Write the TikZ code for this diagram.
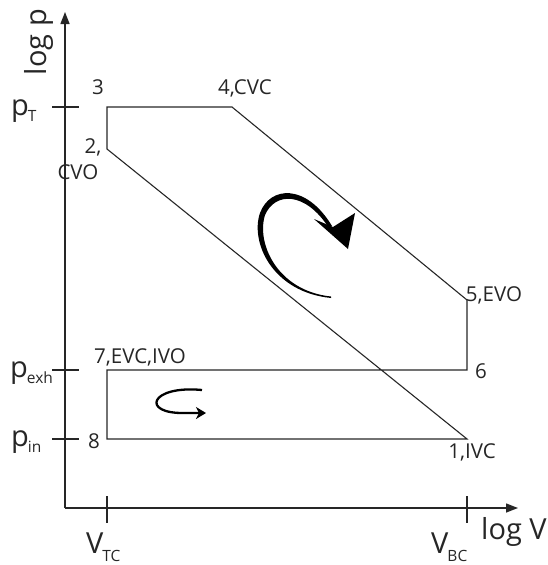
\documentclass[tikz,border=0pt]{standalone}
\usepackage{fontspec}
\setmainfont{Open Sans}
\usetikzlibrary{arrows.meta}
\definecolor{ink}{HTML}{262626}
\tikzset{
  axis/.style={draw=ink, line width=1.4pt},
  cyc/.style={draw=ink, line width=1.1pt, line join=miter},
  tick/.style={draw=ink, line width=1.2pt},
  ptlab/.style={text=ink, font=\fontsize{20.5}{22}\selectfont, inner sep=0pt},
  axlab/.style={text=ink, font=\fontsize{29}{31}\selectfont, inner sep=0pt},
}
\newcommand{\subtxt}[1]{\raisebox{-6pt}{\fontsize{15.5}{16}\selectfont #1}}
\begin{document}
\begin{tikzpicture}[x=1pt,y=-1pt]
\useasboundingbox (0,0) rectangle (547,565);
% axes
\coordinate (O) at (65,508);
\coordinate (ytop) at (65,12);
\coordinate (xend) at (518,508);
\draw[axis,-{Triangle[length=12pt,width=9pt]}] (O) -- (ytop);
\draw[axis,-{Triangle[length=12pt,width=9pt]}] (O) -- (xend);
% ticks
\coordinate (tTa) at (52,107); \coordinate (tTb) at (79,107);
\coordinate (tEa) at (52,370); \coordinate (tEb) at (79,370);
\coordinate (tIa) at (52,439); \coordinate (tIb) at (79,439);
\coordinate (vTa) at (107,496); \coordinate (vTb) at (107,523);
\coordinate (vBa) at (467,496); \coordinate (vBb) at (467,523);
\draw[tick] (tTa) -- (tTb);
\draw[tick] (tEa) -- (tEb);
\draw[tick] (tIa) -- (tIb);
\draw[tick] (vTa) -- (vTb);
\draw[tick] (vBa) -- (vBb);
% cycle points
\coordinate (p1) at (467,439);
\coordinate (p2) at (107,149);
\coordinate (p3) at (107,107);
\coordinate (p4) at (232,107);
\coordinate (p5) at (467,300);
\coordinate (p6) at (467,370);
\coordinate (p7) at (107,370);
\coordinate (p8) at (107,439);
\draw[cyc] (p1) -- (p2) -- (p3) -- (p4) -- (p5) -- (p6) -- (p7) -- (p8) -- cycle;
% axis labels
\node[axlab, rotate=90] (lp) at (39,42) {log p};
\node[axlab] (lv) at (514,532) {log V};
\node[axlab, anchor=base west] (pT) at (11,115) {p\kern-1pt\subtxt{T}};
\node[axlab, anchor=base west] (pE) at (10,377) {p\kern-1pt\subtxt{exh}};
\node[axlab, anchor=base west] (pI) at (11,446) {p\kern-1pt\subtxt{in}};
\node[axlab, anchor=base west] (VT) at (86,553) {V\kern-1pt\raisebox{-8pt}{\fontsize{15.5}{16}\selectfont TC}};
\node[axlab, anchor=base west] (VB) at (431,553) {V\kern-1pt\raisebox{-8pt}{\fontsize{15.5}{16}\selectfont BC}};
% point labels
\node[ptlab] (l3) at (98,87) {3};
\node[ptlab] (l4) at (245,88) {4,CVC};
\node[ptlab] (l2) at (93,147) {2,};
\node[ptlab] (l2b) at (78,172) {CVO};
\node[ptlab] (l5) at (494,295) {5,EVO};
\node[ptlab] (l6) at (481,371) {6};
\node[ptlab] (l7) at (140,357) {7,EVC,IVO};
\node[ptlab] (l8) at (94,441) {8};
\node[ptlab] (l1) at (472,452) {1,IVC};
% big rotation arrow (tapered)
\fill[black] (331,298) .. controls (272,292) and (250,242) .. (260,213)
  .. controls (270,186) and (306,183) .. (332,226)
  -- (329,228) .. controls (305,191) and (275,192) .. (265,215)
  .. controls (256,244) and (278,291) .. (331,296.5) -- cycle;
\fill[black] (348,249) -- (314,219) -- (333,227) -- (355,213) -- cycle;
% small rotation arrow
\draw[black, line width=2.3pt, -{Stealth[length=10pt,width=12pt,inset=3pt]}]
  (202,390) .. controls (150,385) and (140,414) .. (185,413) -- (206,413);
\end{tikzpicture}
\end{document}
